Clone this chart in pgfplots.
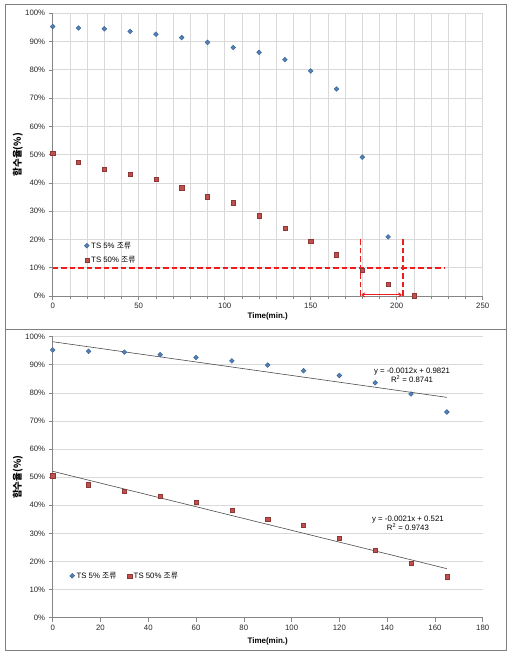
\documentclass[border=0pt]{standalone}
\usepackage{fontspec}
\setmainfont{Liberation Sans}
\newfontfamily\kr{Noto Sans CJK KR}
\usepackage{pgfplots}
\usepackage{pgfplotstable}
\pgfplotsset{compat=1.18}
\usetikzlibrary{arrows.meta}
\definecolor{sblue}{HTML}{4F81BD}
\definecolor{sbluedk}{HTML}{385D8A}
\definecolor{sred}{HTML}{C0504D}
\definecolor{sreddk}{HTML}{8C3836}
\definecolor{gridc}{HTML}{D9D9D9}
\definecolor{axc}{HTML}{868686}
\definecolor{framec}{HTML}{7F7F7F}
\definecolor{annred}{HTML}{EE1C1C}

\pgfplotstableread{
x y
0 95.3
15 94.8
30 94.5
45 93.6
60 92.6
75 91.4
90 89.7
105 87.9
120 86.2
135 83.6
150 79.6
165 73.2
180 49.1
195 20.9
}\tsfiveA
\pgfplotstableread{
x y
0 50.5
15 47.3
30 44.9
45 43.2
60 41.2
75 38.3
90 35.1
105 33.0
120 28.4
135 23.9
150 19.5
165 14.6
180 9.1
195 4.2
210 0.1
}\tsfiftyA
\pgfplotstableread{
x y
0 95.3
15 94.8
30 94.5
45 93.6
60 92.6
75 91.4
90 89.9
105 87.9
120 86.2
135 83.6
150 79.6
165 73.2
}\tsfiveB
\pgfplotstableread{
x y
0 50.5
15 47.3
30 44.9
45 43.2
60 41.2
75 38.3
90 35.1
105 33.0
120 28.4
135 23.9
150 19.5
165 14.6
}\tsfiftyB

\tikzset{anndash/.style={draw=annred, line width=1.8pt, dash pattern=on 5.5pt off 3pt}}

\pgfplotsset{
  common/.style={
    scale only axis,
    width=430pt,
    axis x line*=bottom,
    axis y line*=left,
    axis line style={axc, line width=0.8pt},
    major tick style={axc, line width=0.6pt},
    minor tick style={axc, line width=0.5pt},
    tick align=outside,
    major tick length=4pt,
    minor tick length=3pt,
    ymin=0, ymax=100,
    ytick={0,10,...,100},
    yticklabel={\pgfmathprintnumber{\tick}\%},
    /pgf/number format/assume math mode=true,
    tick label style={font=\fontsize{7.8}{9}\selectfont, black!85},
    ymajorgrids,
    grid style={gridc, line width=0.7pt},
    ylabel={\kr\bfseries 함수율(\%)},
    ylabel style={at={(axis description cs:-0.081,0.5)}, anchor=center, font=\fontsize{9.5}{10}\selectfont},
    xlabel={\bfseries Time(min.)},
    legend cell align=left,
    legend style={draw=none, fill=none, font=\fontsize{7.8}{9}\selectfont, inner sep=1pt},
    clip=false,
  },
  s5/.style={only marks, mark=square*, mark size=1.7pt, mark options={rotate=45, fill=sblue, draw=sbluedk, line width=0.4pt}},
  s50/.style={only marks, mark=square*, mark size=2.1pt, mark options={fill=sred, draw=sreddk, line width=0.4pt}},
}

\begin{document}
\begin{tikzpicture}
\path[use as bounding box] (0pt,0pt) rectangle (516pt,658pt);
\draw[framec, line width=0.9pt] (5pt,8pt) rectangle (506.5pt,654pt);
\draw[framec, line width=0.9pt] (5pt,329pt) -- (506.5pt,329pt);

\begin{axis}[common,
  at={(52.7pt,362pt)}, anchor=south west,
  height=282.7pt,
  xmin=0, xmax=250,
  xtick={0,50,...,250},
  minor xtick={10,20,30,40,60,70,80,90,110,120,130,140,160,170,180,190,210,220,230,240},
  xmajorgrids, xminorgrids,
  minor grid style={gridc, line width=0.7pt},
  xlabel style={at={(axis description cs:0.5,-0.073)}, anchor=center, font=\fontsize{8}{9}\selectfont},
  legend style={at={(axis description cs:0.071,0.152)}, anchor=west, row sep=3pt},
]
\addplot[s5] table {\tsfiveA};
\addlegendentry{TS 5\% {\kr 조류}}
\addplot[s50] table {\tsfiftyA};
\addlegendentry{TS 50\% {\kr 조류}}
\addplot[anndash, mark=none, forget plot] coordinates {(0,10) (228,10)};
\addplot[anndash, mark=none, forget plot] coordinates {(179,0) (179,20)};
\addplot[anndash, mark=none, forget plot] coordinates {(203.5,0) (203.5,20)};
\draw[annred, line width=1pt, {Straight Barb[length=2.5pt,width=4pt]}-{Straight Barb[length=2.5pt,width=4pt]}] (axis cs:179.5,0.4) -- (axis cs:203,0.4);
\end{axis}

\begin{axis}[common,
  at={(52.7pt,40.3pt)}, anchor=south west,
  height=281pt,
  xmin=0, xmax=180,
  xtick={0,20,...,180},
  xlabel style={at={(axis description cs:0.5,-0.085)}, anchor=center, font=\fontsize{8}{9}\selectfont},
  legend columns=2,
  legend style={at={(axis description cs:0.037,0.149)}, anchor=west},
  /tikz/every even column/.append style={column sep=9pt},
]
\addplot[s5] table {\tsfiveB};
\addlegendentry{TS 5\% {\kr 조류}}
\addplot[s50] table {\tsfiftyB};
\addlegendentry{TS 50\% {\kr 조류}}
\addplot[black!70, line width=0.6pt, forget plot] coordinates {(0,98.21) (165,78.41)};
\addplot[black!70, line width=0.6pt, forget plot] coordinates {(0,52.1) (165,17.45)};
\node[font=\fontsize{7.8}{9}\selectfont, align=center] at (axis cs:150.4,86.2) {y = -0.0012x + 0.9821\\R\textsuperscript{2} = 0.8741};
\node[font=\fontsize{7.8}{9}\selectfont, align=center] at (axis cs:148.7,33.6) {y = -0.0021x + 0.521\\R\textsuperscript{2} = 0.9743};
\end{axis}
\end{tikzpicture}
\end{document}
